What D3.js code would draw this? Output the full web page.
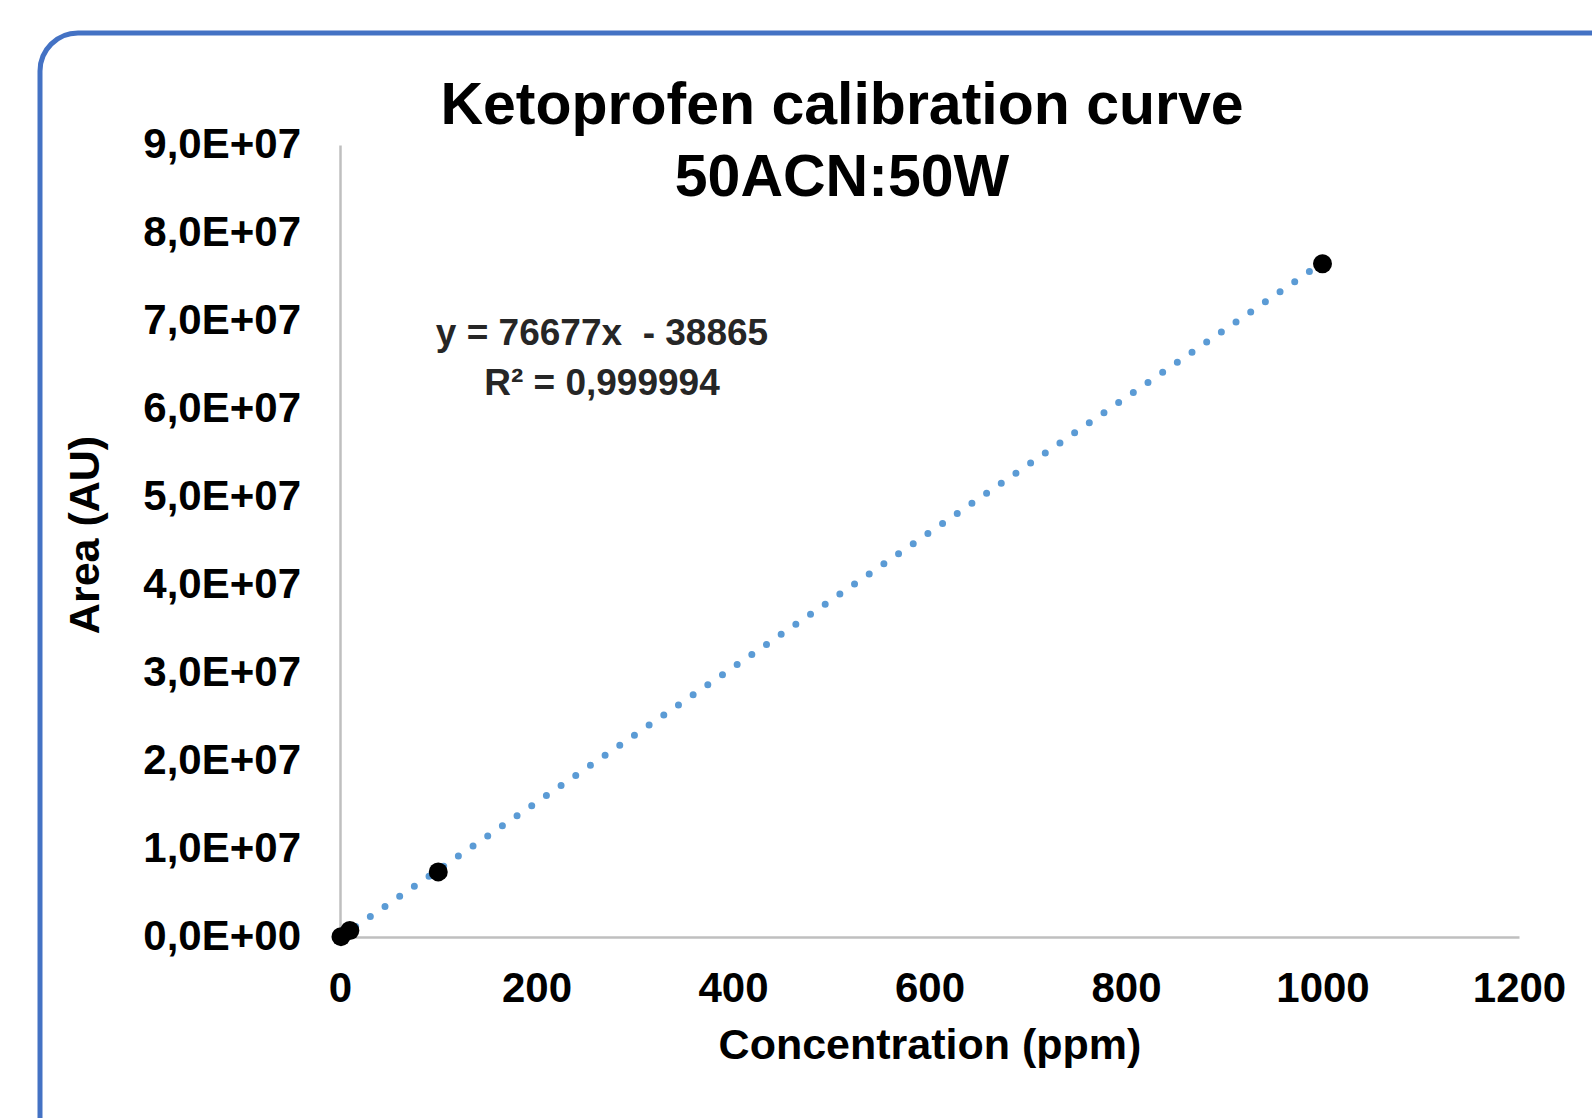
<!DOCTYPE html>
<html>
<head>
<meta charset="utf-8">
<script src="https://cdn.jsdelivr.net/npm/d3@7"></script>
<style>
  html, body { margin: 0; padding: 0; background: #fff; overflow: hidden; }
  svg text { font-family: "Liberation Sans", Arial, sans-serif; font-weight: bold; }
</style>
</head>
<body>
<script>
// Calibration data
var concentrations = [1, 10, 100, 1000];
var areas = [40000, 730000, 7400000, 76500000];
var xTicks = [0, 200, 400, 600, 800, 1000, 1200];
var yTicks = [0, 1e7, 2e7, 3e7, 4e7, 5e7, 6e7, 7e7, 8e7, 9e7];
var slope = 76677, intercept = -38865;
var titleLines = ["Ketoprofen calibration curve", "50ACN:50W"];
var eqLines = ["y = 76677x  - 38865", "R\u00B2 = 0,999994"];

var W = 1592, H = 1118;
var svg = d3.select("body").append("svg")
    .attr("width", W)
    .attr("height", H);

// Rounded blue frame, running off the right and bottom edges
svg.append("rect")
    .attr("x", 40).attr("y", 33)
    .attr("width", 1650).attr("height", 1200)
    .attr("rx", 38)
    .attr("fill", "none")
    .attr("stroke", "#4472C4")
    .attr("stroke-width", 5);

// Scales
var x = d3.scaleLinear().domain([0, 1200]).range([340, 1519]);
var y = d3.scaleLinear().domain([0, 9e7]).range([937, 145]);

function sciFmt(v) {
    if (v === 0) return "0,0E+00";
    var e = Math.floor(Math.log10(v));
    var m = v / Math.pow(10, e);
    return m.toFixed(1).replace(".", ",") + "E+" + (e < 10 ? "0" : "") + e;
}

// Y axis
var yAxis = svg.append("g")
    .attr("transform", "translate(340,0)")
    .call(d3.axisLeft(y).tickValues(yTicks).tickSize(0).tickPadding(39).tickFormat(sciFmt));
yAxis.select(".domain").attr("stroke", "#BFBFBF").attr("stroke-width", 2.5);
yAxis.selectAll("text")
    .attr("font-size", 42)
    .attr("fill", "#000")
    .attr("dy", "0.3em")
    .style("font-family", "'Liberation Sans', Arial, sans-serif");

// X axis
var xAxis = svg.append("g")
    .attr("transform", "translate(0,937)")
    .call(d3.axisBottom(x).tickValues(xTicks).tickSize(0).tickPadding(35).tickFormat(d3.format("d")));
xAxis.select(".domain").attr("stroke", "#BFBFBF").attr("stroke-width", 2.5);
xAxis.selectAll("text")
    .attr("font-size", 42)
    .attr("fill", "#000")
    .attr("dy", "0.71em")
    .style("font-family", "'Liberation Sans', Arial, sans-serif");

// Trendline (dotted) over the data range
var xr = d3.extent(concentrations);
svg.append("line")
    .attr("x1", x(xr[0])).attr("y1", y(slope * xr[0] + intercept))
    .attr("x2", x(xr[1])).attr("y2", y(slope * xr[1] + intercept))
    .attr("stroke", "#5B9BD5")
    .attr("stroke-width", 7)
    .attr("stroke-linecap", "round")
    .attr("stroke-dasharray", "0 17.8");

// Data points
svg.selectAll(".pt")
    .data(concentrations)
    .enter().append("circle")
    .attr("class", "pt")
    .attr("cx", function (d) { return x(d); })
    .attr("cy", function (d, i) { return y(areas[i]); })
    .attr("r", 9.5)
    .attr("fill", "#000");

// Title
svg.append("text")
    .attr("x", 842).attr("y", 124)
    .attr("text-anchor", "middle")
    .attr("font-size", 59)
    .text(titleLines[0]);
svg.append("text")
    .attr("x", 842).attr("y", 196)
    .attr("text-anchor", "middle")
    .attr("font-size", 59)
    .text(titleLines[1]);

// Trendline equation
svg.selectAll(".eq")
    .data(eqLines)
    .enter().append("text")
    .attr("class", "eq")
    .attr("x", 602)
    .attr("y", function (d, i) { return 345 + i * 50; })
    .attr("text-anchor", "middle")
    .attr("font-size", 37)
    .attr("fill", "#262626")
    .style("white-space", "pre")
    .text(function (d) { return d; });

// Axis titles
svg.append("text")
    .attr("x", 930).attr("y", 1059)
    .attr("text-anchor", "middle")
    .attr("font-size", 43)
    .text("Concentration (ppm)");

svg.append("text")
    .attr("transform", "translate(99,535) rotate(-90)")
    .attr("text-anchor", "middle")
    .attr("font-size", 43)
    .text("Area (AU)");
</script>
</body>
</html>
